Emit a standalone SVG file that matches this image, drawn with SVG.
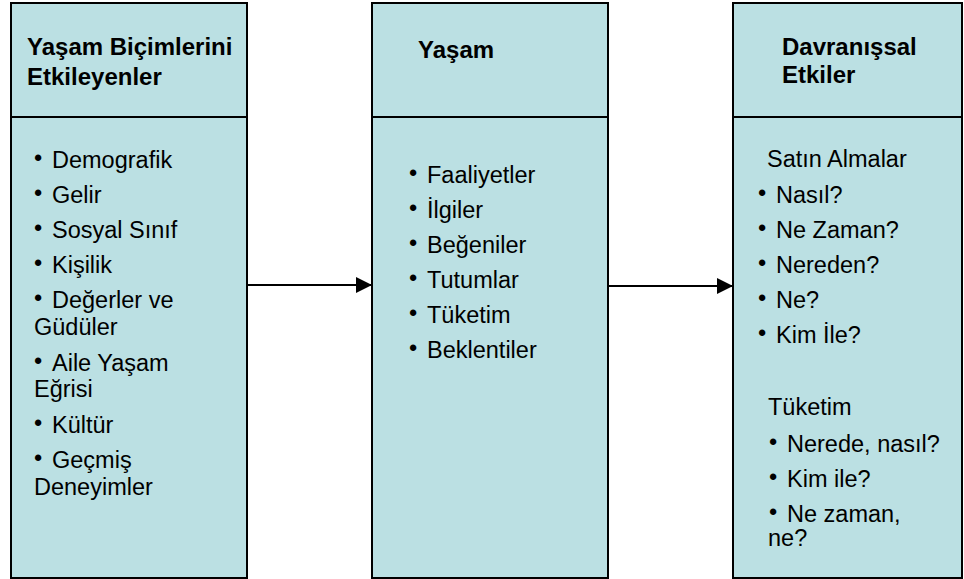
<svg xmlns="http://www.w3.org/2000/svg" width="964" height="579" viewBox="0 0 964 579">
<style>
.box{fill:#BBE0E3;stroke:#000;stroke-width:2}
.div{stroke:#000;stroke-width:2}
text{font-family:"Liberation Sans",Arial,sans-serif;font-size:23.5px;fill:#000}
.h{font-weight:bold;font-size:24px}
.conn{stroke:#000;stroke-width:2;fill:none}
</style>
<defs>
<marker id="ah" markerWidth="16" markerHeight="16" refX="16" refY="8" orient="auto" markerUnits="userSpaceOnUse">
<path d="M0,0 L16,8 L0,16 Z" fill="#000"/>
</marker>
</defs>
<g id="connectors">
<line class="conn" x1="248" y1="285" x2="372" y2="285" marker-end="url(#ah)"/>
<line class="conn" x1="609" y1="286" x2="733" y2="286" marker-end="url(#ah)"/>
</g>
<g id="node-etkileyenler">
<rect class="box" x="11" y="3" width="236" height="575"/>
<line class="div" x1="11" y1="117" x2="247" y2="117"/>
<text class="h" x="27" y="55">Yaşam Biçimlerini</text>
<text class="h" x="27" y="85">Etkileyenler</text>
<text x="34" y="166">•</text><text x="52" y="168">Demografik</text>
<text x="34" y="201">•</text><text x="52" y="203">Gelir</text>
<text x="34" y="236">•</text><text x="52" y="238">Sosyal Sınıf</text>
<text x="34" y="271">•</text><text x="52" y="273">Kişilik</text>
<text x="34" y="306">•</text><text x="52" y="308">Değerler ve</text>
<text x="34" y="335">Güdüler</text>
<text x="34" y="369">•</text><text x="52" y="371">Aile Yaşam</text>
<text x="34" y="397">Eğrisi</text>
<text x="34" y="431">•</text><text x="52" y="433">Kültür</text>
<text x="34" y="466">•</text><text x="52" y="468">Geçmiş</text>
<text x="34" y="495">Deneyimler</text>
</g>
<g id="node-yasam">
<rect class="box" x="372" y="3" width="236" height="575"/>
<line class="div" x1="372" y1="117" x2="608" y2="117"/>
<text class="h" x="418" y="58">Yaşam</text>
<text x="409" y="181">•</text><text x="427" y="183">Faaliyetler</text>
<text x="409" y="216">•</text><text x="427" y="218">İlgiler</text>
<text x="409" y="251">•</text><text x="427" y="253">Beğeniler</text>
<text x="409" y="286">•</text><text x="427" y="288">Tutumlar</text>
<text x="409" y="321">•</text><text x="427" y="323">Tüketim</text>
<text x="409" y="356">•</text><text x="427" y="358">Beklentiler</text>
</g>
<g id="node-davranissal">
<rect class="box" x="733" y="3" width="229" height="575"/>
<line class="div" x1="733" y1="117" x2="962" y2="117"/>
<text class="h" x="782" y="55">Davranışsal</text>
<text class="h" x="782" y="83">Etkiler</text>
<text x="767" y="167">Satın Almalar</text>
<text x="758" y="201">•</text><text x="776" y="203">Nasıl?</text>
<text x="758" y="236">•</text><text x="776" y="238">Ne Zaman?</text>
<text x="758" y="271">•</text><text x="776" y="273">Nereden?</text>
<text x="758" y="306">•</text><text x="776" y="308">Ne?</text>
<text x="758" y="341">•</text><text x="776" y="343">Kim İle?</text>
<text x="768" y="415">Tüketim</text>
<text x="769" y="450">•</text><text x="787" y="452">Nerede, nasıl?</text>
<text x="769" y="485">•</text><text x="787" y="487">Kim ile?</text>
<text x="769" y="520">•</text><text x="787" y="522">Ne zaman,</text>
<text x="768" y="546">ne?</text>
</g>
</svg>
